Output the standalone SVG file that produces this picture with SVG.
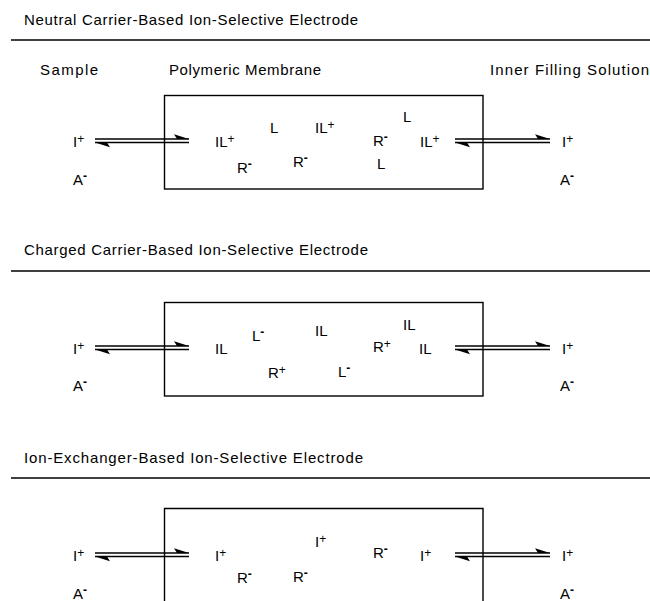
<svg xmlns="http://www.w3.org/2000/svg" width="650" height="601" viewBox="0 0 650 601">
<style>
  text { font-family: "Liberation Sans", Arial, Helvetica, sans-serif; fill: #000; }
  .title { font-size: 15px; }
  .head { font-size: 15px; }
  .lbl { font-size: 15px; }
  .sup { font-size: 12px; }
  .neg { font-size: 12px; font-weight: bold; }
  .rule { stroke: #000; stroke-width: 1.3; fill: none; }
  .box { stroke: #000; stroke-width: 1.4; fill: none; }
  .eq { stroke: #000; stroke-width: 1.3; fill: none; marker-end: url(#half); }
</style>
<defs>
  <marker id="half" markerUnits="userSpaceOnUse" markerWidth="18" markerHeight="10" refX="16" refY="7" orient="auto" overflow="visible">
    <path d="M16,7 L1,2.2 L4,7 Z" fill="#000"/>
  </marker>
</defs>
<rect width="650" height="601" fill="#fff"/>

<!-- Section 1 -->
<g id="title1"><text class="title" x="24" y="25" textLength="334" lengthAdjust="spacing">Neutral Carrier-Based Ion-Selective Electrode</text></g>
<line class="rule" x1="11" y1="40" x2="650" y2="40"/>
<g id="hdr-sample"><text class="head" x="40" y="75" textLength="58" lengthAdjust="spacing">Sample</text></g>
<g id="hdr-membrane"><text class="head" x="169" y="75" textLength="152" lengthAdjust="spacing">Polymeric Membrane</text></g>
<g id="hdr-inner"><text class="head" x="490" y="75" textLength="159" lengthAdjust="spacing">Inner Filling Solution</text></g>

<g id="sample1">
  <text class="lbl" x="73" y="147">I<tspan class="sup" dy="-4">+</tspan></text>
  <text class="lbl" x="73" y="185">A<tspan class="neg" dy="-5">-</tspan></text>
</g>
<g id="membrane1">
  <rect class="box" x="164.5" y="95.5" width="318.5" height="93.5"/>
  <text class="lbl" x="215" y="147">IL<tspan class="sup" dy="-4">+</tspan></text>
  <text class="lbl" x="270" y="133">L</text>
  <text class="lbl" x="315" y="133">IL<tspan class="sup" dy="-4">+</tspan></text>
  <text class="lbl" x="237" y="173">R<tspan class="neg" dy="-5">-</tspan></text>
  <text class="lbl" x="293" y="167">R<tspan class="neg" dy="-5">-</tspan></text>
  <text class="lbl" x="403" y="122">L</text>
  <text class="lbl" x="373" y="146">R<tspan class="neg" dy="-5">-</tspan></text>
  <text class="lbl" x="420" y="147">IL<tspan class="sup" dy="-4">+</tspan></text>
  <text class="lbl" x="377" y="169">L</text>
</g>
<g id="inner1">
  <text class="lbl" x="562" y="147">I<tspan class="sup" dy="-4">+</tspan></text>
  <text class="lbl" x="560" y="185">A<tspan class="neg" dy="-5">-</tspan></text>
</g>

<!-- Section 2 -->
<g id="title2"><text class="title" x="24" y="255" textLength="344" lengthAdjust="spacing">Charged Carrier-Based Ion-Selective Electrode</text></g>
<line class="rule" x1="11" y1="271" x2="650" y2="271"/>
<g id="sample2">
  <text class="lbl" x="73" y="354">I<tspan class="sup" dy="-4">+</tspan></text>
  <text class="lbl" x="73" y="391">A<tspan class="neg" dy="-5">-</tspan></text>
</g>
<g id="membrane2">
  <rect class="box" x="164.5" y="302.5" width="318.5" height="93.5"/>
  <text class="lbl" x="215" y="354">IL</text>
  <text class="lbl" x="252" y="341">L<tspan class="neg" dy="-5">-</tspan></text>
  <text class="lbl" x="315" y="336">IL</text>
  <text class="lbl" x="268" y="378">R<tspan class="sup" dy="-4">+</tspan></text>
  <text class="lbl" x="403" y="330">IL</text>
  <text class="lbl" x="373" y="352">R<tspan class="sup" dy="-4">+</tspan></text>
  <text class="lbl" x="419" y="354">IL</text>
  <text class="lbl" x="338" y="377">L<tspan class="neg" dy="-5">-</tspan></text>
</g>
<g id="inner2">
  <text class="lbl" x="562" y="354">I<tspan class="sup" dy="-4">+</tspan></text>
  <text class="lbl" x="560" y="391">A<tspan class="neg" dy="-5">-</tspan></text>
</g>

<!-- Section 3 -->
<g id="title3"><text class="title" x="24" y="463" textLength="339" lengthAdjust="spacing">Ion-Exchanger-Based Ion-Selective Electrode</text></g>
<line class="rule" x1="11" y1="478" x2="650" y2="478"/>
<g id="sample3">
  <text class="lbl" x="73" y="561">I<tspan class="sup" dy="-4">+</tspan></text>
  <text class="lbl" x="73" y="599">A<tspan class="neg" dy="-5">-</tspan></text>
</g>
<g id="membrane3">
  <path class="box" d="M164.5,620 V508.5 H483 V620"/>
  <text class="lbl" x="215" y="561">I<tspan class="sup" dy="-4">+</tspan></text>
  <text class="lbl" x="237" y="583">R<tspan class="neg" dy="-5">-</tspan></text>
  <text class="lbl" x="293" y="582">R<tspan class="neg" dy="-5">-</tspan></text>
  <text class="lbl" x="315" y="547">I<tspan class="sup" dy="-4">+</tspan></text>
  <text class="lbl" x="373" y="558">R<tspan class="neg" dy="-5">-</tspan></text>
  <text class="lbl" x="420" y="561">I<tspan class="sup" dy="-4">+</tspan></text>
</g>
<g id="inner3">
  <text class="lbl" x="562" y="561">I<tspan class="sup" dy="-4">+</tspan></text>
  <text class="lbl" x="560" y="599">A<tspan class="neg" dy="-5">-</tspan></text>
</g>

<!-- Connectors: equilibrium half-arrows -->
<g id="connectors">
  <line class="eq" x1="95" y1="139" x2="189" y2="139"/>
  <line class="eq" x1="189" y1="142.5" x2="95" y2="142.5"/>
  <line class="eq" x1="455" y1="139" x2="550" y2="139"/>
  <line class="eq" x1="550" y1="142.5" x2="455" y2="142.5"/>

  <line class="eq" x1="95" y1="346" x2="189" y2="346"/>
  <line class="eq" x1="189" y1="349.5" x2="95" y2="349.5"/>
  <line class="eq" x1="455" y1="346" x2="550" y2="346"/>
  <line class="eq" x1="550" y1="349.5" x2="455" y2="349.5"/>

  <line class="eq" x1="95" y1="553" x2="189" y2="553"/>
  <line class="eq" x1="189" y1="556.5" x2="95" y2="556.5"/>
  <line class="eq" x1="455" y1="553" x2="550" y2="553"/>
  <line class="eq" x1="550" y1="556.5" x2="455" y2="556.5"/>
</g>
</svg>
